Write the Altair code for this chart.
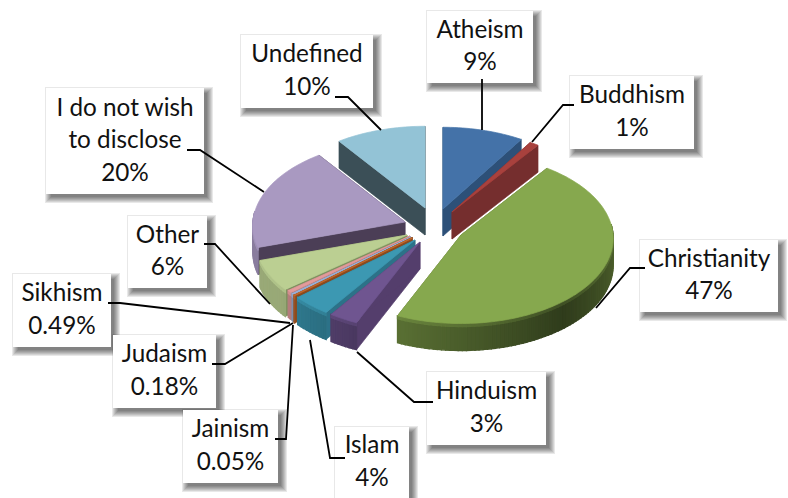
import math
import altair as alt
import pandas as pd

# Survey shares, clockwise from twelve o'clock
categories = ["Atheism", "Buddhism", "Christianity", "Hinduism", "Islam", "Jainism",
              "Judaism", "Sikhism", "Other", "I do not wish to disclose", "Undefined"]
shares = [9, 1, 47, 3, 4, 0.05, 0.18, 0.49, 6, 20, 10]
share_labels = ["9%", "1%", "47%", "3%", "4%", "0.05%", "0.18%", "0.49%", "6%", "20%", "10%"]

# Slice styling: top face, radial wall
top_colors = ["#4472A8", "#A8413D", "#86A84E", "#6F5590", "#3C98B2", "#C0662A",
              "#9DB3D9", "#E39B9B", "#BBCF92", "#A999C1", "#93C3D6"]
wall_colors = ["#2D5078", "#752E2E", "#5C7030", "#543E6C", "#2C7288", "#8A4A1E",
               "#7C8DAA", "#B07878", "#7F9260", "#4B3E56", "#3B4F57"]

# Exploded position of each slice's apex on the page
apex_x = [443, 452, 461, 420, 415, 412, 411, 410, 407, 405, 425]
apex_y = [209, 212, 235, 242, 240, 238, 237, 236, 235, 222, 208]

# Painter's order, back to front
paint_order = [10, 0, 9, 1, 8, 7, 6, 5, 4, 3, 2]

# Tilted-disc projection
R_X, R_Y, DEPTH, PERSPECTIVE = 152, 85, 27, 0.04


def project(ax, ay, theta):
    back = math.cos(theta)
    s = 1 / (1 + PERSPECTIVE * back)
    return ax + R_X * math.sin(theta) * s, ay - R_Y * back * s


def shade(hex_color, m):
    r, g, b = (int(hex_color[i:i + 2], 16) for i in (1, 3, 5))
    return "#%02x%02x%02x" % tuple(min(255, int(c * m)) for c in (r, g, b))


def rim_light(deg):
    # Wall brightness around the disc, darkest toward the lower right
    return min(0.82, 0.36 + 0.34 * abs(deg - 140) / 70)


def polygon(points, color, width=0.6):
    ring = [[round(x, 2), round(y, 2)] for x, y in points]
    ring.append(ring[0])
    return {"type": "Feature",
            "geometry": {"type": "Polygon", "coordinates": [ring]},
            "properties": {"fill": color, "width": width}}


total = sum(shares)
starts, cumulative = [], 0.0
for share in shares:
    starts.append(cumulative)
    cumulative += share / total * 2 * math.pi

features = []
for i in paint_order:
    ax, ay = apex_x[i], apex_y[i]
    t0 = starts[i]
    t1 = t0 + shares[i] / total * 2 * math.pi
    steps = max(2, int((t1 - t0) / math.radians(1.5)))
    angles = [t0 + (t1 - t0) * k / steps for k in range(steps + 1)]
    rim = [project(ax, ay, t) for t in angles]
    thin = shares[i] < 0.1
    stroke = 1.4 if thin else 0.7

    # Radial walls
    for (x, y) in (rim[0], rim[-1]):
        features.append(polygon([(ax, ay), (x, y), (x, y + DEPTH), (ax, ay + DEPTH)],
                                wall_colors[i], stroke))

    # Outer wall on the camera-facing part of the rim only
    facing = [k for k in range(steps)
              if math.cos((angles[k] + angles[k + 1]) / 2) < 0.12]
    for k in facing:
        (x0, y0), (x1, y1) = rim[k], rim[k + 1]
        deg = math.degrees((angles[k] + angles[k + 1]) / 2)
        features.append(polygon([(x0, y0), (x1, y1), (x1, y1 + DEPTH), (x0, y0 + DEPTH)],
                                shade(top_colors[i], rim_light(deg)), 1.3))
    # Lit upper band of the outer wall
    for k in facing:
        (x0, y0), (x1, y1) = rim[k], rim[k + 1]
        deg = math.degrees((angles[k] + angles[k + 1]) / 2)
        features.append(polygon([(x0, y0), (x1, y1), (x1, y1 + 3), (x0, y0 + 3)],
                                shade(top_colors[i], min(1.0, rim_light(deg) + 0.12)), 1.3))

    # Top face
    features.append(polygon([(ax, ay)] + rim, top_colors[i], stroke))

x_scale = alt.Scale(domain=[0, 788], range=[0, 788], nice=False, zero=False)
y_scale = alt.Scale(domain=[0, 498], range=[0, 498], nice=False, zero=False)
X = lambda f: alt.X(f, type="quantitative", scale=x_scale, axis=None)
Y = lambda f: alt.Y(f, type="quantitative", scale=y_scale, axis=None)

pie = (
    alt.Chart(alt.Data(values=features))
    .mark_geoshape()
    .encode(
        fill=alt.Fill("properties.fill:N", scale=None),
        stroke=alt.Stroke("properties.fill:N", scale=None),
        strokeWidth=alt.StrokeWidth("properties.width:Q", scale=None),
    )
    .project(type="identity", scale=1, translate=[0, 0])
)

# Callout boxes: left, top, right, bottom
boxes = {
    "Atheism": (427, 11, 533, 83),
    "Buddhism": (570, 76, 694, 149),
    "Christianity": (640, 240, 778, 312),
    "Hinduism": (427, 372, 546, 445),
    "Islam": (335, 427, 409, 498),
    "Jainism": (183, 410, 278, 483),
    "Judaism": (113, 335, 216, 408),
    "Sikhism": (13, 274, 111, 347),
    "Other": (128, 216, 207, 288),
    "I do not wish to disclose": (46, 88, 204, 194),
    "Undefined": (241, 35, 373, 108),
}
box_lines = {"I do not wish to disclose": ["I do not wish", "to disclose"]}

# Leader lines from each callout to its slice
leaders = {
    "Atheism": [(482, 79), (482, 130)],
    "Buddhism": [(574, 105), (563, 105), (532, 142)],
    "Christianity": [(645, 268), (630, 268), (596, 308)],
    "Hinduism": [(433, 402), (414, 402), (357, 352)],
    "Islam": [(345, 458), (330, 458), (310, 340)],
    "Jainism": [(275, 439), (286, 439), (293, 325)],
    "Judaism": [(212, 364), (225, 364), (293, 323)],
    "Sikhism": [(108, 303), (120, 303), (290, 323)],
    "Other": [(204, 244), (215, 244), (270, 304)],
    "I do not wish to disclose": [(187, 150), (200, 150), (264, 192)],
    "Undefined": [(335, 97), (348, 97), (381, 130)],
}

leader_rows = [
    {"name": name, "seq": k, "x": x, "y": y}
    for name, pts in leaders.items() for k, (x, y) in enumerate(pts)
]
leader_layer = (
    alt.Chart(pd.DataFrame(leader_rows))
    .mark_line(color="#000000", strokeWidth=1.8)
    .encode(x=X("x"), y=Y("y"), detail="name:N", order="seq:Q")
)

box_rows = [{"name": n, "x0": b[0], "y0": b[1], "x1": b[2], "y1": b[3]} for n, b in boxes.items()]
box_df = pd.DataFrame(box_rows)

# Soft drop shadow built from stacked translucent rectangles
shadow_layers = []
for spread in (5, 4, 3, 2, 1, 0, -1):
    shadow_df = box_df.assign(
        x0=box_df.x0 + 4 - spread, y0=box_df.y0 + 4 - spread,
        x1=box_df.x1 + 4 + spread, y1=box_df.y1 + 4 + spread,
    )
    shadow_layers.append(
        alt.Chart(shadow_df).mark_rect(color="#000000", opacity=0.09)
        .encode(x=X("x0"), x2="x1:Q", y=Y("y0"), y2="y1:Q")
    )

box_layer = (
    alt.Chart(box_df).mark_rect(color="#FFFFFF")
    .encode(x=X("x0"), x2="x1:Q", y=Y("y0"), y2="y1:Q")
)

text_rows = []
for name, label in zip(categories, share_labels):
    x0, y0, x1, y1 = boxes[name]
    lines = box_lines.get(name, [name]) + [label]
    mid, pitch = (y0 + y1) / 2, 32.5
    for k, line in enumerate(lines):
        text_rows.append({"x": (x0 + x1) / 2, "y": mid + (k - (len(lines) - 1) / 2) * pitch, "t": line})

text_layer = (
    alt.Chart(pd.DataFrame(text_rows))
    .mark_text(font="Lato", fontSize=24.3, color="#111111", align="center", baseline="middle")
    .encode(x=X("x"), y=Y("y"), text="t:N")
)

chart = (
    alt.layer(pie, *shadow_layers, box_layer, leader_layer, text_layer)
    .properties(width=788, height=498, padding=0, autosize=alt.AutoSizeParams(type="none"))
    .configure_view(stroke=None)
)

chart.save("out.html", embed_options={"renderer": "svg", "actions": False})
